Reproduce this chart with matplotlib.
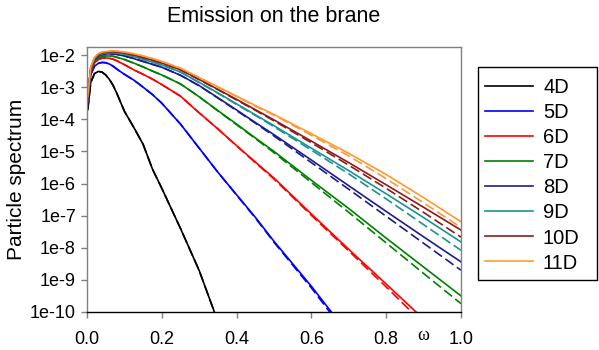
import numpy as np
import matplotlib
matplotlib.use("Agg")
import matplotlib.pyplot as plt
from matplotlib.lines import Line2D
from matplotlib.patches import Rectangle
from matplotlib.ticker import FixedLocator, FuncFormatter, NullLocator

plt.rcParams['font.family'] = ['Liberation Sans', 'DejaVu Sans']

omega = [0.002, 0.01, 0.02, 0.03, 0.04, 0.05, 0.06, 0.07, 0.08, 0.1, 0.125, 0.15,
         0.175, 0.2, 0.25, 0.3, 0.35, 0.4, 0.45, 0.5, 0.6, 0.7, 0.8, 0.9, 1.0]
nan = float('nan')

labels = ['4D', '5D', '6D', '7D', '8D', '9D', '10D', '11D']
colors = ['#000000', '#0000FF', '#FF0000', '#008000', '#1C1C8E', '#1A9393', '#8E1A1A', '#FF9933']

# log10 of particle spectrum, solid curves
log_4d = [-3.7, -2.85, -2.58, -2.51, -2.53, -2.62, -2.76, -2.95, -3.2, -3.75, -4.25, -4.78,
          -5.55, -6.15, -7.4, -8.71, -10.3, nan, nan, nan, nan, nan, nan, nan, nan]
log_5d = [-3.5, -2.6, -2.35, -2.26, -2.23, -2.24, -2.28, -2.35, -2.44, -2.6, -2.78, -3.0,
          -3.23, -3.5, -4.15, -4.9, -5.65, -6.35, -7.05, -7.8, -9.2, -10.7, nan, nan, nan]
log_6d = [-3.45, -2.55, -2.25, -2.14, -2.1, -2.09, -2.1, -2.13, -2.18, -2.3, -2.46, -2.6,
          -2.75, -2.92, -3.28, -3.8, -4.3, -4.82, -5.33, -5.83, -6.95, -8.05, -9.13, -10.22, nan]
log_7d = [-3.4, -2.5, -2.2, -2.09, -2.05, -2.03, -2.03, -2.04, -2.07, -2.14, -2.25, -2.37,
          -2.5, -2.62, -2.9, -3.3, -3.73, -4.15, -4.58, -5.0, -5.9, -6.78, -7.7, -8.6, -9.5]
log_8d = [-3.35, -2.45, -2.15, -2.03, -1.99, -1.97, -1.96, -1.97, -1.98, -2.03, -2.11, -2.2,
          -2.29, -2.38, -2.63, -2.95, -3.33, -3.71, -4.1, -4.48, -5.27, -6.07, -6.87, -7.66, -8.44]
log_9d = [-3.3, -2.42, -2.12, -2.0, -1.96, -1.94, -1.93, -1.93, -1.94, -1.98, -2.05, -2.13,
          -2.22, -2.31, -2.53, -2.85, -3.18, -3.52, -3.86, -4.2, -4.9, -5.6, -6.32, -7.06, -7.82]
log_10d = [-3.3, -2.4, -2.1, -1.98, -1.93, -1.91, -1.9, -1.9, -1.91, -1.94, -2.0, -2.08,
           -2.16, -2.25, -2.46, -2.76, -3.07, -3.38, -3.7, -4.02, -4.68, -5.35, -6.04, -6.74, -7.45]
log_11d = [-3.3, -2.38, -2.08, -1.96, -1.91, -1.89, -1.88, -1.87, -1.88, -1.91, -1.96, -2.03,
           -2.11, -2.2, -2.41, -2.7, -2.99, -3.28, -3.57, -3.85, -4.45, -5.06, -5.72, -6.44, -7.19]

# dashed curves
dlog_4d = log_4d
dlog_5d = [-3.5, -2.6, -2.35, -2.26, -2.23, -2.24, -2.28, -2.35, -2.44, -2.6, -2.78, -3.0,
           -3.23, -3.5, -4.15, -4.9, -5.65, -6.36, -7.07, -7.83, -9.25, -10.78, nan, nan, nan]
dlog_6d = [-3.45, -2.55, -2.25, -2.14, -2.1, -2.09, -2.1, -2.13, -2.18, -2.3, -2.46, -2.6,
           -2.75, -2.92, -3.28, -3.8, -4.3, -4.83, -5.35, -5.86, -6.99, -8.1, -9.22, -10.37, nan]
dlog_7d = [-3.4, -2.5, -2.2, -2.09, -2.05, -2.03, -2.03, -2.04, -2.07, -2.14, -2.25, -2.37,
           -2.5, -2.62, -2.9, -3.3, -3.74, -4.17, -4.6, -5.04, -5.97, -6.9, -7.85, -8.8, -9.74]
dlog_8d = [-3.35, -2.45, -2.15, -2.03, -1.99, -1.97, -1.96, -1.97, -1.98, -2.03, -2.11, -2.2,
           -2.29, -2.38, -2.63, -2.96, -3.34, -3.73, -4.12, -4.52, -5.35, -6.18, -7.02, -7.86, -8.7]
dlog_9d = [-3.3, -2.42, -2.12, -2.0, -1.96, -1.94, -1.93, -1.93, -1.94, -1.98, -2.05, -2.13,
           -2.22, -2.31, -2.53, -2.86, -3.19, -3.54, -3.88, -4.23, -4.96, -5.7, -6.48, -7.28, -8.08]
dlog_10d = [-3.3, -2.4, -2.1, -1.98, -1.93, -1.91, -1.9, -1.9, -1.91, -1.94, -2.0, -2.08,
            -2.16, -2.25, -2.46, -2.77, -3.08, -3.4, -3.72, -4.05, -4.73, -5.43, -6.15, -6.9, -7.67]
dlog_11d = [-3.3, -2.38, -2.08, -1.96, -1.91, -1.89, -1.88, -1.87, -1.88, -1.91, -1.96, -2.03,
            -2.11, -2.2, -2.41, -2.71, -3.0, -3.29, -3.59, -3.87, -4.5, -5.14, -5.85, -6.6, -7.37]

solid = [log_4d, log_5d, log_6d, log_7d, log_8d, log_9d, log_10d, log_11d]
dashed = [dlog_4d, dlog_5d, dlog_6d, dlog_7d, dlog_8d, dlog_9d, dlog_10d, dlog_11d]

yticks_exp = [-2, -3, -4, -5, -6, -7, -8, -9, -10]
xticks = [0.0, 0.2, 0.4, 0.6, 0.8, 1.0]

W, H = 599, 350
fig = plt.figure(figsize=(W / 100, H / 100), dpi=100)
ax = fig.add_axes([87 / W, 1 - 312 / H, (461 - 87) / W, (312 - 47) / H])

w = np.array(omega)
for col, d in zip(colors, dashed):
    ax.plot(w, 10.0 ** np.array(d), color=col, lw=1.2, ls=(0, (6, 2.5)))
for col, s in zip(colors, solid):
    ax.plot(w, 10.0 ** np.array(s), color=col, lw=1.2)

ax.set_yscale('log')
ax.set_xlim(0.0, 1.0)
ax.set_ylim(1e-10, 10 ** -1.75)
ax.yaxis.set_major_locator(FixedLocator([10.0 ** e for e in yticks_exp]))
ax.yaxis.set_minor_locator(NullLocator())
ax.yaxis.set_major_formatter(FuncFormatter(lambda v, p: '1e%d' % int(round(np.log10(v)))))
ax.set_xticks(xticks)
ax.xaxis.set_major_formatter(FuncFormatter(lambda v, p: '%.1f' % v))

for side in ['left', 'top', 'right']:
    ax.spines[side].set_color('#808080')
ax.spines['bottom'].set_color('#000000')
for sp in ax.spines.values():
    sp.set_linewidth(1.0)
ax.tick_params(axis='both', direction='out', length=4, width=1, color='#808080', labelsize=13)
ax.tick_params(axis='y', pad=4)
ax.tick_params(axis='x', pad=10)

ax.set_ylabel('Particle spectrum', fontsize=15, labelpad=3)
fig.text(274 / W, 1 - 16 / H, 'Emission on the brane', fontsize=15.5, ha='center', va='center')
fig.text(423 / W, 1 - 336 / H, '\u03c9', fontsize=13, ha='center', va='center',
         family=['Liberation Serif', 'DejaVu Serif'])

# legend box (drawn in figure pixels)
fig.add_artist(Rectangle((478 / W, 1 - 280 / H), (597 - 478) / W, (280 - 67) / H,
                         transform=fig.transFigure, facecolor='white', edgecolor='black', lw=1.0))
row0, step = 85.5, 25.1
for i, (lab, col) in enumerate(zip(labels, colors)):
    yy = 1 - (row0 + i * step) / H
    fig.add_artist(Line2D([485 / W, 533 / W], [yy, yy], transform=fig.transFigure,
                          color=col, lw=1.2))
    fig.text(543 / W, yy, lab, fontsize=14.5, ha='left', va='center_baseline')

fig.savefig('out.png', dpi=100)
